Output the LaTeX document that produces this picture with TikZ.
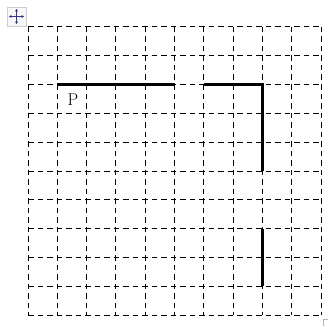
\documentclass[tikz,border=0pt]{standalone}
\usetikzlibrary{arrows.meta}
\begin{document}
\begin{tikzpicture}[x=1pt,y=-1pt,
  gridline/.style={black, line width=1pt, dash pattern=on 5.5pt off 4pt},
  thickline/.style={black, line width=3.2pt},
  handle/.style={draw=gray!40, fill=gray!6, line width=0.6pt},
  harrow/.style={draw=blue!45!black!80, line width=0.8pt, -{Stealth[length=2.6pt,width=3pt]}}]
\useasboundingbox (0,0) rectangle (328,326);
% grid
\foreach \i in {0,...,10}{
  \draw[gridline] ({28+\i*29.3},27) -- ({28+\i*29.3},315);
  \draw[gridline] (28,{27+\i*28.8}) -- (321,{27+\i*28.8});
}
% named corners of the thick lines
\coordinate (a) at ({28+1*29.3},{27+2*28.8});
\coordinate (b) at ({28+5*29.3},{27+2*28.8});
\coordinate (c) at ({28+6*29.3},{27+2*28.8});
\coordinate (d) at ({28+8*29.3},{27+2*28.8});
\coordinate (e) at ({28+8*29.3},{27+5*28.8});
\coordinate (f) at ({28+8*29.3},{27+7*28.8});
\coordinate (g) at ({28+8*29.3},{27+9*28.8});
\draw[thickline] (a) -- (b);
\draw[thickline] (c) -- (d) -- (e);
\draw[thickline] (f) -- (g);
\node[font=\fontsize{17}{17}\selectfont, inner sep=0pt] (P) at (73,100) {P};
% table move handle
\node[handle, minimum width=19pt, minimum height=19pt, inner sep=0pt] (mv) at (16.5,16.5) {};
\draw[harrow] (mv.center) -- ++(0,-7.5);
\draw[harrow] (mv.center) -- ++(0,7.5);
\draw[harrow] (mv.center) -- ++(-7.5,0);
\draw[harrow] (mv.center) -- ++(7.5,0);
% resize handle
\draw[gray!60, line width=0.6pt] (323,326) -- (323,319) -- (328,319);
\end{tikzpicture}
\end{document}
